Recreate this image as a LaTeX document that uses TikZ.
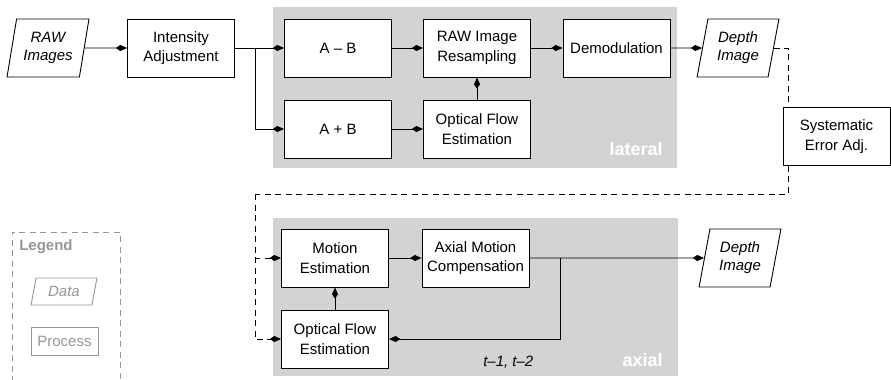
\documentclass[tikz,border=0pt]{standalone}
\usepackage{fontspec}
\setmainfont{Liberation Sans}
\usetikzlibrary{calc,shapes.geometric,arrows.meta,positioning}
\definecolor{panelgray}{RGB}{211,211,211}
\definecolor{legendgray}{RGB}{150,150,150}
\tikzstyle{process}=[draw=black,fill=white,line width=0.6pt,minimum width=71.3pt,
  minimum height=38.7pt,align=center,inner sep=2pt]
\tikzstyle{data}=[trapezium,trapezium left angle=77,trapezium right angle=103,
  trapezium stretches=true,draw=black,fill=white,line width=0.6pt,
  minimum width=54.7pt,minimum height=38.7pt,align=center,font=\itshape,inner sep=1pt]
\tikzstyle{panellabel}=[text=white,font=\bfseries\large,inner sep=0pt]

\begin{document}
\begin{tikzpicture}[x=0.6667pt,y=-0.6667pt,font=\fontsize{10}{13}\selectfont,
    >={Kite[length=7.5pt,width=4pt,inset=3pt]}]
        \tikzstyle{every edge}=[->,line width=0.65pt,draw]
        \tikzstyle{flow}=[->,line width=0.65pt]
        \tikzstyle{fb}=[line width=0.6pt,dashed,dash pattern=on 4pt off 3pt]
        \useasboundingbox (0,0) rectangle (891,379);
        % Grey panels:
        \fill[panelgray] (273,7) rectangle (677,168);
        \fill[panelgray] (273,218) rectangle (678,376);
        \node (lat) [panellabel,anchor=base east] at (663,155) {lateral};
        \node (ax) [panellabel,anchor=base east] at (663,366) {axial};
        % Lateral part:
        \node (raw) [data] at (48,48) {RAW\\Images};
        \node (intens) [process] at (181,48) {Intensity\\Adjustment};
        \node (amb) [process] at (338,48) {A -- B};
        \node (apb) [process] at (338,129) {A + B};
        \node (resamp) [process] at (477,48) {RAW Image\\Resampling};
        \node (oflat) [process] at (477,129) {Optical Flow\\Estimation};
        \node (demod) [process] at (616.5,48) {Demodulation};
        \node (depth1) [data] at (738,48) {Depth\\Image};
        \node (syserr) [process] at (836.5,136.5) {Systematic\\Error Adj.};
        \coordinate (split1) at (255,48);
        % Axial part:
        \node (motion) [process] at (335,258) {Motion\\Estimation};
        \node (amc) [process] at (475.5,258) {Axial Motion\\Compensation};
        \node (ofax) [process] at (335,339) {Optical Flow\\Estimation};
        \node (depth2) [data] at (740,258) {Depth\\Image};
        \node (tprev) [inner sep=0pt,anchor=base west] at (483,366) {\itshape t--1, t--2};
        \coordinate (split2) at (560,258);
        \coordinate (fbk) at (255,194);
        % Legend:
        \draw[fb,legendgray] (12,382) -- (12,232) -- (120,232) -- (120,382);
        \node (leg) [inner sep=0pt,anchor=base west,text=legendgray,font=\bfseries]
          at (19,250) {Legend};
        \node (legdata) [data,draw=legendgray,text=legendgray,minimum width=44pt,
          minimum height=18pt] at (64,291.5) {Data};
        \node (legproc) [process,draw=legendgray,text=legendgray,minimum width=44.7pt,
          minimum height=18.7pt] at (64.5,341) {Process};

        \path
        (raw) edge (intens)
        (intens) edge (amb)
        (amb) edge (resamp)
        (apb) edge (oflat)
        (oflat) edge (resamp)
        (resamp) edge (demod)
        (demod) edge (depth1);
        \draw[flow] (split1) |- (apb);

        \path
        (motion) edge (amc)
        (ofax) edge (motion)
        (amc) edge (depth2);
        \draw[flow] (split2) |- (ofax);

        % Feedback (dashed):
        \draw[fb] (depth1.east) -| ($(syserr.north west)+(6,0)$);
        \draw[fb] ($(syserr.south west)+(6,0)$) |- (fbk);
        \draw[fb,->] (fbk) |- (motion);
        \draw[fb,->] (fbk) |- (ofax);
      \end{tikzpicture}
\end{document}
